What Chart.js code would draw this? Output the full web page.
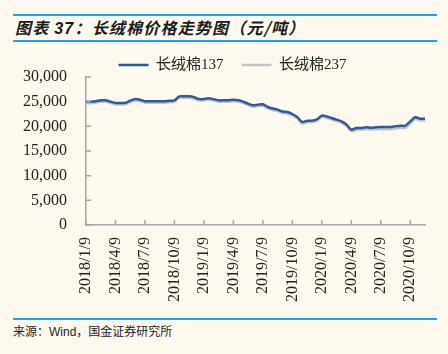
<!DOCTYPE html>
<html>
<head>
<meta charset="utf-8">
<script src="https://cdn.jsdelivr.net/npm/chart.js@4"></script>
<style>
  html, body { margin: 0; padding: 0; }
  body { width: 448px; height: 354px; background: #fdf9ef; position: relative; overflow: hidden; }
  .rule { position: absolute; left: 13px; width: 424px; height: 2px; background: #21a0e2; }
  #title { position: absolute; left: 15px; top: 15px; font: italic bold 16px "Noto Sans CJK SC", sans-serif; color: #1a1a1a; line-height: 24px; letter-spacing: 1.2px; }
  #title b { font-family: "Liberation Sans", Arial, sans-serif; }
  #source { position: absolute; left: 13px; top: 322px; font: 12px "Noto Sans CJK SC", sans-serif; color: #222; }
  #source span { font-family: "Liberation Sans", Arial, sans-serif; }
  #wrap { position: absolute; left: 0; top: 30px; width: 448px; height: 285px; }
</style>
</head>
<body>
<div class="rule" style="top:14px"></div>
<div id="title">图表 <b>37</b>：长绒棉价格走势图（元/吨）</div>
<div class="rule" style="top:40px"></div>
<div id="wrap"><canvas id="priceChart" width="448" height="285"></canvas></div>
<div class="rule" style="top:318px"></div>
<div id="source">来源：<span>Wind</span>，国金证券研究所</div>
<script>
// half-month observations
const dates = [
  '2018/1/9','2018/1/24','2018/2/9','2018/2/24','2018/3/9','2018/3/24','2018/4/9','2018/4/24',
  '2018/5/9','2018/5/24','2018/6/9','2018/6/24','2018/7/9','2018/7/24','2018/8/9','2018/8/24',
  '2018/9/9','2018/9/24','2018/10/9','2018/10/24','2018/11/9','2018/11/24','2018/12/9','2018/12/24',
  '2019/1/9','2019/1/24','2019/2/9','2019/2/24','2019/3/9','2019/3/24','2019/4/9','2019/4/24',
  '2019/5/9','2019/5/24','2019/6/9','2019/6/24','2019/7/9','2019/7/24','2019/8/9','2019/8/24',
  '2019/9/9','2019/9/24','2019/10/9','2019/10/24','2019/11/9','2019/11/24','2019/12/9','2019/12/24',
  '2020/1/9','2020/1/24','2020/2/9','2020/2/24','2020/3/9','2020/3/24','2020/4/9','2020/4/24',
  '2020/5/9','2020/5/24','2020/6/9','2020/6/24','2020/7/9','2020/7/24','2020/8/9','2020/8/24',
  '2020/9/9','2020/9/24','2020/10/9','2020/10/24','2020/11/9','2020/11/24'
];

const price137 = [
  25000,25000,25100,25270,25270,25000,24730,24730,24750,25200,
  25540,25400,25100,25070,25070,25070,25100,25200,25250,26080,
  26080,26080,25900,25540,25540,25700,25500,25270,25270,25270,
  25400,25300,25000,24590,24260,24400,24460,23920,23600,23380,
  23000,22900,22500,21900,20880,21140,21140,21400,22160,22000,
  21690,21350,21020,20400,19320,19660,19660,19800,19700,19800,
  19860,19860,19860,20000,20130,20130,21000,21830,21550,21550
];

const price237 = [
  24700,24700,24800,24970,24970,24700,24430,24430,24450,24900,
  25240,25100,24800,24770,24770,24770,24800,24900,24950,25780,
  25780,25780,25600,25240,25240,25400,25200,24970,24970,24970,
  25100,25000,24700,24290,23960,24100,24160,23620,23300,23080,
  22700,22600,22200,21600,20580,20840,20840,21100,21860,21700,
  21390,21050,20720,20100,19020,19300,19300,19400,19350,19400,
  19400,19400,19400,19550,19700,19700,20600,21500,21200,21200
];

const tickLabels = [
  '2018/1/9','2018/4/9','2018/7/9','2018/10/9','2019/1/9','2019/4/9',
  '2019/7/9','2019/10/9','2020/1/9','2020/4/9','2020/7/9','2020/10/9'
];

const axisColor = '#a6a6a6';

// Excel style tick marks that point into the plot
const innerTicks = {
  id: 'innerTicks',
  afterLayout(chart) {
    // legend sits a little right of the canvas centre
    chart.legend.left += 20;
    chart.legend.right += 20;
  },
  afterDraw(chart) {
    const {ctx, chartArea, scales} = chart;
    ctx.save();
    ctx.strokeStyle = axisColor;
    ctx.lineWidth = 1.5;
    ctx.beginPath();
    tickLabels.forEach(lbl => {
      const x = scales.x.getPixelForValue(dates.indexOf(lbl));
      ctx.moveTo(x, chartArea.bottom);
      ctx.lineTo(x, chartArea.bottom - 5);
    });
    scales.y.ticks.forEach(t => {
      const y = scales.y.getPixelForValue(t.value);
      ctx.moveTo(chartArea.left, y);
      ctx.lineTo(chartArea.left + 5, y);
    });
    ctx.stroke();
    ctx.restore();
  }
};

const ctx = document.getElementById('priceChart').getContext('2d');
const priceChart = new Chart(ctx, {
  type: 'line',
  data: {
    labels: dates,
    datasets: [{
      label: '长绒棉137',
      data: price137,
      borderColor: '#2f5a98',
      backgroundColor: '#2f5a98',
      borderWidth: 2.5,
      pointRadius: 0,
      tension: 0.3
    }, {
      label: '长绒棉237',
      data: price237,
      borderColor: '#c3c3c3',
      backgroundColor: '#c3c3c3',
      borderWidth: 2.5,
      pointRadius: 0,
      tension: 0.3
    }]
  },
  options: {
    responsive: false,
    animation: false,
    layout: { padding: { top: 9.5, left: 0, right: 23, bottom: 0 } },
    plugins: {
      tooltip: { enabled: false },
      legend: {
        maxHeight: 37.5,
        labels: {
          usePointStyle: true,
          pointStyle: 'line',
          pointStyleWidth: 30,
          padding: 18,
          color: '#222',
          font: { size: 15, family: '"Liberation Serif", "Noto Sans CJK SC", serif' }
        }
      }
    },
    scales: {
      x: {
        offset: false,
        grid: { display: false, drawTicks: false },
        border: { color: axisColor, width: 1.5 },
        afterFit: (scale) => { scale.height = 90; },
        ticks: {
          autoSkip: false,
          minRotation: 90,
          maxRotation: 90,
          padding: 12,
          color: '#222',
          font: { size: 16, family: '"Liberation Serif", serif' },
          callback: function (value) {
            const lbl = dates[value];
            return tickLabels.includes(lbl) ? lbl : null;
          }
        }
      },
      y: {
        min: 0,
        max: 30000,
        grid: { display: false, drawTicks: false },
        border: { color: axisColor, width: 1.5 },
        afterFit: (scale) => { scale.width = 86; },
        ticks: {
          stepSize: 5000,
          padding: 19,
          color: '#222',
          font: { size: 16, family: '"Liberation Serif", serif' },
          callback: (v) => v.toLocaleString('en-US')
        }
      }
    }
  },
  plugins: [innerTicks]
});
</script>
</body>
</html>
